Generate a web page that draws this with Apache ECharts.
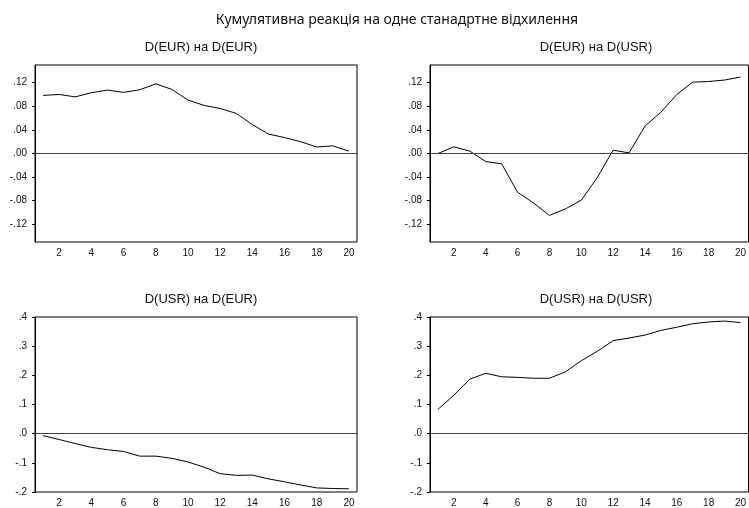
<!DOCTYPE html>
<html>
<head>
<meta charset="utf-8">
<script src="https://cdn.jsdelivr.net/npm/echarts@6/dist/echarts.min.js"></script>
<style>
  html, body { margin: 0; padding: 0; background: #fff; }
  #chart { width: 749px; height: 508px; }
</style>
</head>
<body>
<div id="chart"></div>
<script>
// periods
const periods = ["1","2","3","4","5","6","7","8","9","10","11","12","13","14","15","16","17","18","19","20"];

// cumulative responses
const eurOnEur = [0.0985, 0.100, 0.096, 0.103, 0.1075, 0.1036, 0.108, 0.118, 0.1087, 0.0906,
                  0.0815, 0.0764, 0.068, 0.049, 0.033, 0.027, 0.020, 0.011, 0.013, 0.004];
const eurOnUsr = [0.000, 0.0113, 0.004, -0.0136, -0.0175, -0.0657, -0.0838, -0.105, -0.094, -0.079,
                  -0.041, 0.0057, 0.001, 0.0464, 0.070, 0.100, 0.121, 0.122, 0.1245, 0.1296];
const usrOnEur = [-0.0068, -0.020, -0.034, -0.047, -0.055, -0.061, -0.077, -0.077, -0.0845, -0.097,
                  -0.115, -0.137, -0.143, -0.142, -0.155, -0.165, -0.176, -0.186, -0.188, -0.189];
const usrOnUsr = [0.0834, 0.132, 0.187, 0.207, 0.195, 0.193, 0.190, 0.190, 0.212, 0.250,
                  0.282, 0.319, 0.328, 0.338, 0.354, 0.365, 0.377, 0.383, 0.386, 0.381];

const panelTitles = ["D(EUR) на D(EUR)", "D(EUR) на D(USR)", "D(USR) на D(EUR)", "D(USR) на D(USR)"];
const topTicks = [-0.12, -0.08, -0.04, 0, 0.04, 0.08, 0.12];
const bottomTicks = [-0.2, -0.1, 0, 0.1, 0.2, 0.3, 0.4];

const font = "Liberation Sans, Arial, sans-serif";
const panels = [
  { data: eurOnEur, left: 35, top: 65, min: -0.15, max: 0.15, ticks: topTicks, dec: 2 },
  { data: eurOnUsr, left: 430, top: 65, min: -0.15, max: 0.15, ticks: topTicks, dec: 2 },
  { data: usrOnEur, left: 35, top: 317, min: -0.2, max: 0.4, ticks: bottomTicks, dec: 1 },
  { data: usrOnUsr, left: 430, top: 317, min: -0.2, max: 0.4, ticks: bottomTicks, dec: 1 }
];

const chart = echarts.init(document.getElementById("chart"));

const option = {
  backgroundColor: "#fff",
  animation: false,
  title: [{
    text: "Кумулятивна реакція на одне станадртне відхилення",
    left: 392, top: 8, textAlign: "center",
    textStyle: { fontFamily: "Noto Sans", fontSize: 14, fontWeight: "normal", color: "#111" }
  }].concat(panels.map((p, i) => ({
    text: panelTitles[i],
    left: p.left + 161, top: p.top - 29, textAlign: "center",
    textStyle: { fontFamily: font, fontSize: 13, fontWeight: "normal", color: "#111" }
  }))),
  grid: panels.map(p => ({
    left: p.left, top: p.top, width: 322, height: 177,
    show: true, borderColor: "#000", borderWidth: 1, backgroundColor: "#fff"
  })),
  xAxis: panels.map((p, i) => ({
    type: "category", gridIndex: i, data: periods, boundaryGap: true,
    axisLine: { lineStyle: { color: "#000", width: 1 } },
    axisTick: { interval: 0, length: 3, lineStyle: { color: "#000" } },
    axisLabel: {
      interval: idx => idx % 2 === 1,
      margin: 6, fontFamily: font, fontSize: 10, color: "#111"
    },
    splitLine: { show: false }
  })),
  yAxis: panels.map((p, i) => ({
    type: "value", gridIndex: i, min: p.min, max: p.max,
    axisLine: { show: true, lineStyle: { color: "#000", width: 1 } },
    axisTick: { show: true, length: 3, customValues: p.ticks, lineStyle: { color: "#000" } },
    axisLabel: {
      customValues: p.ticks, margin: 8, fontFamily: font, fontSize: 10, color: "#111",
      formatter: v => v.toFixed(p.dec).replace("0.", ".")
    },
    splitLine: { show: false }
  })),
  series: panels.map((p, i) => ({
    type: "line", xAxisIndex: i, yAxisIndex: i, data: p.data,
    symbol: "none", lineStyle: { color: "#000", width: 1 },
    markLine: {
      silent: true, symbol: "none", label: { show: false },
      lineStyle: { color: "#444", width: 1, type: "solid" },
      data: [{ yAxis: 0 }]
    }
  }))
};

chart.setOption(option);
</script>
</body>
</html>
